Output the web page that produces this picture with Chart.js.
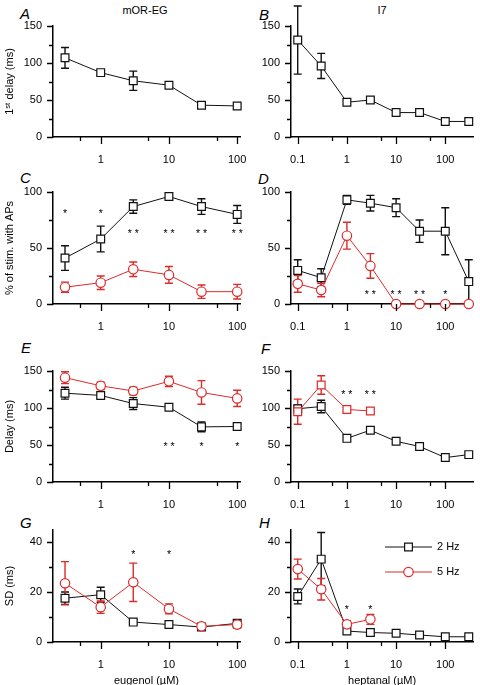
<!DOCTYPE html>
<html>
<head>
<meta charset="utf-8">
<script src="https://cdn.jsdelivr.net/npm/chart.js@4.4.0/dist/chart.umd.min.js"></script>
<style>
  body { margin: 0; width: 480px; height: 685px; overflow: hidden; background: #fff; position: relative;
         font-family: "Liberation Sans", Arial, sans-serif; color: #000; }
  canvas { position: absolute; }
  .lbl { position: absolute; font-style: italic; font-size: 15px; line-height: 1; }
  .head { position: absolute; font-size: 11px; line-height: 1; width: 100px; text-align: center; }
</style>
</head>
<body>
<div class="head" style="left:95px;top:5px">mOR-EG</div>
<div class="head" style="left:332px;top:5px">I7</div>
<div class="lbl" style="left:20px;top:6px">A</div>
<div class="lbl" style="left:259px;top:7px">B</div>
<div class="lbl" style="left:20px;top:170px">C</div>
<div class="lbl" style="left:258px;top:171px">D</div>
<div class="lbl" style="left:21px;top:340px">E</div>
<div class="lbl" style="left:261px;top:341px">F</div>
<div class="lbl" style="left:20px;top:515px">G</div>
<div class="lbl" style="left:259px;top:515px">H</div>

<canvas id="cA" width="250" height="181" style="left:0;top:-4px"></canvas>
<canvas id="cB" width="240" height="181" style="left:240px;top:-4px"></canvas>
<canvas id="cC" width="250" height="182" style="left:0;top:162px"></canvas>
<canvas id="cD" width="240" height="182" style="left:240px;top:162px"></canvas>
<canvas id="cE" width="250" height="181" style="left:0;top:341px"></canvas>
<canvas id="cF" width="240" height="181" style="left:240px;top:341px"></canvas>
<canvas id="cG" width="250" height="197" style="left:0;top:500px"></canvas>
<canvas id="cH" width="240" height="197" style="left:240px;top:500px"></canvas>

<script>
// concentrations (µM)
const eugenolConc = [0.3, 1, 3, 10, 30, 100];
const heptanalConc = [0.1, 0.3, 1, 3, 10, 30, 100, 300];
const heptanalConcShort = [0.1, 0.3, 1, 3];

// axis ticks
const eugenolTicks = [0.5, 1, 5, 10, 50, 100];
const heptanalTicks = [0.1, 0.5, 1, 5, 10, 50, 100];
const xLabelled = [0.1, 1, 10, 100];
const delayTicks = [0, 25, 50, 75, 100, 125, 150];
const delayLabelled = [0, 50, 100, 150];
const pctTicks = [0, 25, 50, 75, 100];
const pctLabelled = [0, 50, 100];
const sdTicks = [0, 10, 20, 30, 40];
const sdLabelled = [0, 20, 40];

// A / B: 1st delay (ms), 2 Hz
const a2Hz = [107, 87, 76, 70, 43, 42];
const a2HzErr = [14, 3, 13, 3, 3, 3];
const b2Hz = [131, 96, 47, 50, 33, 33, 21, 21];
const b2HzErr = [46, 17, 4, 3, 4, 4, 4, 4];

// C / D: % of stim. with APs
const c2Hz = [41, 58, 87, 96, 87, 80];
const c2HzErr = [11, 11.5, 6, 2, 7, 8];
const c5Hz = [15, 19, 31, 26, 11, 11];
const c5HzErr = [4.5, 6, 6.5, 7.5, 6, 6.5];
const d2Hz = [30, 23.5, 93, 90, 86, 65, 65, 20];
const d2HzErr = [9.5, 8, 4, 7, 8, 10, 21, 19.5];
const d5Hz = [18, 12.5, 61, 34, 0, 0, 0, 0];
const d5HzErr = [7.5, 6, 12, 11, 0, 0, 0, 0];

// E / F: delay (ms)
const e2Hz = [120, 117, 106, 101, 74.5, 75];
const e2HzErr = [8, 3, 8, 3, 6.5, 3];
const e5Hz = [141, 130, 123, 136, 121, 113];
const e5HzErr = [8, 5, 5, 7, 16, 11];
const f2Hz = [99, 102, 59, 70, 55, 48, 33, 37];
const f2HzErr = [5, 8.5, 4, 3, 3, 3, 5, 3];
const f5Hz = [95, 131, 98, 96];
const f5HzErr = [17, 12.5, 3, 3];

// G / H: SD (ms)
const g2Hz = [17.6, 19, 8, 7, 6, 7.5];
const g2HzErr = [2.5, 3, 1, 1, 1, 1];
const g5Hz = [23.6, 14, 24, 13.3, 6.3, 7];
const g5HzErr = [8.7, 2.5, 7.7, 2, 1, 1.5];
const h2Hz = [18.3, 33.3, 4.4, 3.8, 3.5, 2.8, 2.1, 2.1];
const h2HzErr = [3, 10.7, 1, 1, 1, 1, 1, 0.5];
const h5Hz = [29.3, 21.2, 7.1, 9.1];
const h5HzErr = [4, 4.3, 1.5, 2];

// significance marks: [text, concentration, value]
const cStars = [['*', 0.3, 83], ['*', 1, 83], ['* *', 3, 65], ['* *', 10, 65], ['* *', 30, 65], ['* *', 100, 65]];
const dStars = [['* *', 3, 11], ['* *', 10, 11], ['* *', 30, 11], ['*', 100, 11]];
const eStars = [['* *', 10, 52], ['*', 30, 52], ['*', 100, 52]];
const fStars = [['* *', 1, 122], ['* *', 3, 122]];
const gStars = [['*', 3, 36], ['*', 10, 36]];
const hStars = [['*', 1, 14], ['*', 3, 14]];

const BLACK = '#111';
const RED = '#dd2a2a';

Chart.defaults.font.family = '"Liberation Sans", Arial, sans-serif';
Chart.defaults.font.size = 11;
Chart.defaults.color = '#000';

const errorBars = {
  id: 'errorBars',
  beforeDatasetsDraw(chart) {
    const ctx = chart.ctx, y = chart.scales.y;
    chart.data.datasets.forEach((ds, di) => {
      const meta = chart.getDatasetMeta(di);
      ctx.save();
      ctx.strokeStyle = ds.borderColor;
      ctx.lineWidth = 1.4;
      meta.data.forEach((pt, i) => {
        const e = ds.errors[i];
        if (!e) return;
        const v = ds.data[i].y;
        const top = y.getPixelForValue(v + e), bot = y.getPixelForValue(v - e);
        ctx.beginPath();
        ctx.moveTo(pt.x, top); ctx.lineTo(pt.x, bot);
        ctx.moveTo(pt.x - 4, top); ctx.lineTo(pt.x + 4, top);
        ctx.moveTo(pt.x - 4, bot); ctx.lineTo(pt.x + 4, bot);
        ctx.stroke();
      });
      ctx.restore();
    });
  }
};

const tickMarks = {
  id: 'tickMarks',
  afterDraw(chart) {
    const {ctx, chartArea: a, scales: {x, y}} = chart;
    ctx.save();
    ctx.strokeStyle = '#000';
    ctx.lineWidth = 1.3;
    ctx.beginPath();
    x.ticks.forEach(t => {
      const px = Math.round(x.getPixelForValue(t.value)) + 0.5;
      ctx.moveTo(px, a.bottom);
      ctx.lineTo(px, a.bottom + (t.label ? 7 : 4));
    });
    y.ticks.forEach(t => {
      const py = Math.round(y.getPixelForValue(t.value)) + 0.5;
      ctx.moveTo(a.left, py);
      ctx.lineTo(a.left - (t.label ? 6 : 4), py);
    });
    ctx.stroke();
    ctx.restore();
  }
};

function starPlugin(marks) {
  return {
    id: 'stars',
    afterDatasetsDraw(chart) {
      const {ctx, scales: {x, y}} = chart;
      ctx.save();
      ctx.fillStyle = '#000';
      ctx.font = '10.5px "Liberation Sans", Arial, sans-serif';
      ctx.textAlign = 'center';
      ctx.textBaseline = 'alphabetic';
      marks.forEach(([t, cx, cy]) => {
        ctx.fillText(t, x.getPixelForValue(cx), y.getPixelForValue(cy) + 6);
      });
      ctx.restore();
    }
  };
}

function drawMarker(ctx, style, r, x, y) {
  ctx.beginPath();
  if (style === 'rect') {
    const s = r * Math.SQRT1_2;
    ctx.rect(x - s, y - s, 2 * s, 2 * s);
  } else {
    ctx.arc(x, y, r, 0, Math.PI * 2);
  }
  ctx.fill();
  ctx.stroke();
}

const hzLegend = {
  id: 'hzLegend',
  afterDraw(chart) {
    const {ctx, chartArea: a} = chart;
    chart.data.datasets.forEach((ds, i) => {
      const y = a.top + 17 + i * 25;
      const x0 = a.left + 94, x1 = a.left + 141;
      ctx.save();
      ctx.strokeStyle = ds.borderColor;
      ctx.lineWidth = 1;
      ctx.beginPath();
      ctx.moveTo(x0, y); ctx.lineTo(x1, y);
      ctx.stroke();
      ctx.fillStyle = '#fff';
      ctx.lineWidth = 1.2;
      drawMarker(ctx, ds.pointStyle, ds.pointRadius, (x0 + x1) / 2, y);
      ctx.fillStyle = '#000';
      ctx.font = '11px "Liberation Sans", Arial, sans-serif';
      ctx.textBaseline = 'middle';
      ctx.fillText(ds.label, x1 + 5, y);
      ctx.restore();
    });
  }
};

function series(label, xs, ys, errs, color, shape, order) {
  return {
    label: label,
    data: xs.map((x, i) => ({x: x, y: ys[i]})),
    errors: errs,
    borderColor: color,
    backgroundColor: '#fff',
    pointBorderColor: color,
    pointBackgroundColor: '#fff',
    pointStyle: shape,
    pointRadius: shape === 'rect' ? 5.5 : 4.7,
    pointBorderWidth: 1.2,
    borderWidth: 1,
    tension: 0,
    clip: false,
    order: order
  };
}

// no automatic label overflow padding: the layout padding alone sets the plot area
function noPad(s) {
  s.paddingLeft = 0; s.paddingRight = 0; s.paddingTop = 0; s.paddingBottom = 0;
}

function panel(id, p) {
  const right = p.column === 'right';
  const xTicks = right ? heptanalTicks : eugenolTicks;
  const plugins = [errorBars, tickMarks];
  if (p.stars) plugins.push(starPlugin(p.stars));
  if (p.legend) plugins.push(hzLegend);
  new Chart(document.getElementById(id), {
    type: 'line',
    data: {datasets: p.datasets},
    options: {
      responsive: false,
      animation: false,
      events: [],
      layout: {padding: {top: 30, right: right ? 0 : 10, left: 0, bottom: 0}},
      plugins: {legend: {display: false}, tooltip: {enabled: false}},
      scales: {
        x: {
          type: 'logarithmic',
          min: right ? 0.073 : 0.2,
          max: right ? 371 : 110,
          afterBuildTicks: s => { s.ticks = xTicks.map(v => ({value: v})); },
          afterFit: s => { s.height = p.xTitle ? 55 : 40; noPad(s); },
          ticks: {
            autoSkip: false, maxRotation: 0, padding: 16,
            callback: v => xLabelled.includes(v) ? String(v) : ''
          },
          grid: {display: false, drawTicks: false, tickLength: 0},
          border: {display: true, color: '#000', width: 1.5},
          title: {display: !!p.xTitle, text: p.xTitle || '', font: {size: 11}, padding: {top: 0, bottom: 9}}
        },
        y: {
          type: 'linear',
          min: p.yMin, max: p.yMax,
          afterBuildTicks: s => { s.ticks = p.yTicks.map(v => ({value: v})); },
          afterFit: s => { s.width = right ? 51 : 53; noPad(s); },
          ticks: {
            padding: 11,
            callback: v => p.yLabelled.includes(v) ? String(v) : ''
          },
          grid: {display: false, drawTicks: false, tickLength: 0},
          border: {display: true, color: '#000', width: 1.5},
          title: {display: !!p.yTitle, text: p.yTitle || '', font: {size: 11}, padding: {top: 3, bottom: 0}}
        }
      }
    },
    plugins: plugins
  });
}

panel('cA', {
  column: 'left', yMin: 0, yMax: 150, yTicks: delayTicks, yLabelled: delayLabelled,
  yTitle: '1ˢᵗ delay (ms)',
  datasets: [series('2 Hz', eugenolConc, a2Hz, a2HzErr, BLACK, 'rect', 1)]
});
panel('cB', {
  column: 'right', yMin: 0, yMax: 150, yTicks: delayTicks, yLabelled: delayLabelled,
  datasets: [series('2 Hz', heptanalConc, b2Hz, b2HzErr, BLACK, 'rect', 1)]
});
panel('cC', {
  column: 'left', yMin: 0, yMax: 100, yTicks: pctTicks, yLabelled: pctLabelled,
  yTitle: '% of stim. with APs', stars: cStars,
  datasets: [series('2 Hz', eugenolConc, c2Hz, c2HzErr, BLACK, 'rect', 1),
             series('5 Hz', eugenolConc, c5Hz, c5HzErr, RED, 'circle', 0)]
});
panel('cD', {
  column: 'right', yMin: 0, yMax: 100, yTicks: pctTicks, yLabelled: pctLabelled,
  stars: dStars,
  datasets: [series('2 Hz', heptanalConc, d2Hz, d2HzErr, BLACK, 'rect', 1),
             series('5 Hz', heptanalConc, d5Hz, d5HzErr, RED, 'circle', 0)]
});
panel('cE', {
  column: 'left', yMin: 0, yMax: 150, yTicks: delayTicks, yLabelled: delayLabelled,
  yTitle: 'Delay (ms)', stars: eStars,
  datasets: [series('2 Hz', eugenolConc, e2Hz, e2HzErr, BLACK, 'rect', 1),
             series('5 Hz', eugenolConc, e5Hz, e5HzErr, RED, 'circle', 0)]
});
panel('cF', {
  column: 'right', yMin: 0, yMax: 150, yTicks: delayTicks, yLabelled: delayLabelled,
  stars: fStars,
  datasets: [series('2 Hz', heptanalConc, f2Hz, f2HzErr, BLACK, 'rect', 1),
             series('5 Hz', heptanalConcShort, f5Hz, f5HzErr, RED, 'rect', 0)]
});
panel('cG', {
  column: 'left', yMin: 0, yMax: 45, yTicks: sdTicks, yLabelled: sdLabelled,
  yTitle: 'SD (ms)', xTitle: 'eugenol (µM)', stars: gStars,
  datasets: [series('2 Hz', eugenolConc, g2Hz, g2HzErr, BLACK, 'rect', 1),
             series('5 Hz', eugenolConc, g5Hz, g5HzErr, RED, 'circle', 0)]
});
panel('cH', {
  column: 'right', yMin: 0, yMax: 45, yTicks: sdTicks, yLabelled: sdLabelled,
  xTitle: 'heptanal (µM)', stars: hStars, legend: true,
  datasets: [series('2 Hz', heptanalConc, h2Hz, h2HzErr, BLACK, 'rect', 1),
             series('5 Hz', heptanalConcShort, h5Hz, h5HzErr, RED, 'circle', 0)]
});
</script>
</body>
</html>
